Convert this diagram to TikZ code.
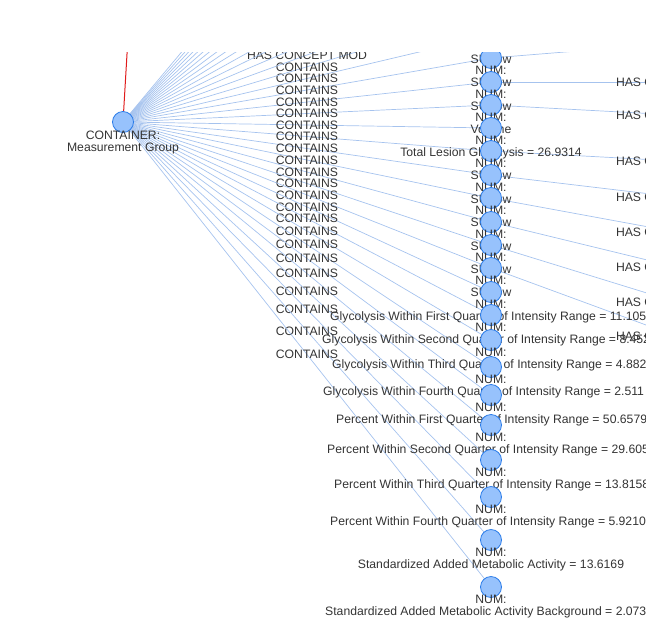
\documentclass[tikz,border=0pt]{standalone}
\usepackage{fontspec}
\setmainfont{Liberation Sans}
\definecolor{nodefill}{HTML}{97C2FC}
\definecolor{nodeline}{HTML}{2B7CE9}
\definecolor{edgeblue}{HTML}{A6C3EE}
\definecolor{txt}{HTML}{343434}
\definecolor{redge}{HTML}{E01B1B}
\begin{document}
\begin{tikzpicture}[x=1pt,y=-1pt,
  vnode/.style={circle,fill=nodefill,draw=nodeline,line width=0.8pt,minimum size=21pt,inner sep=0pt},
  lbl/.style={font=\fontsize{12.2}{14}\selectfont,text=txt,inner sep=0pt,text height=8.7pt,text depth=0pt},
  cedge/.style={draw=edgeblue,line width=0.7pt},
  pedge/.style={draw=redge,line width=1pt}]
\useasboundingbox (0,0) rectangle (646,622);
\clip (0,52) rectangle (646,622);
\coordinate (c) at (123,122);
\coordinate (up) at (129,20);
\foreach \i/\y in {0/35,1/58,2/82,3/105,4/128,5/151,6/175,7/198,8/222,9/245,10/268,11/292,12/315,13/340,14/367,15/395,16/425,17/460,18/497,19/540,20/587}
  \coordinate (v\i) at (491,\y);
\foreach \i in {1,...,15}
  \coordinate (u\i) at (491,{35-23.5*\i});
% edges from container
\foreach \i in {0,...,20}
  \draw[cedge] (c) -- node[lbl]{CONTAINS} (v\i);
\draw[cedge] (c) -- node[lbl]{CONTAINS} (u1);
\draw[cedge] (c) -- node[lbl]{HAS CONCEPT MOD} (u2);
\foreach \i in {3,...,15}
  \draw[cedge] (c) -- (u\i);
% edges to concept modifiers on the right
\foreach \i/\ty in {1/28,2/82,3/125,5/171,6/219,7/266,8/312,9/359,10/404}{
  \coordinate (r\i) at (861,\ty);
  \draw[cedge] (v\i) -- node[lbl]{HAS CONCEPT MOD} (r\i);
}
\draw[pedge] (c) -- (up);
% container node
\node[vnode] (C) at (c) {};
\node[lbl] (C1) at (123,135) {CONTAINER:};
\node[lbl] (C2) at (123,147.5) {Measurement Group};
% column nodes with labels
\foreach \i/\y/\txt/\ax/\anc in {
  0/35/SUVbw/491/center,
  1/58/SUVbw/491/center,
  2/82/SUVbw/491/center,
  3/105/Volume/491/center,
  4/128/Total Lesion Glycolysis = 26.9314/491/center,
  5/151/SUVbw/491/center,
  6/175/SUVbw/491/center,
  7/198/SUVbw/491/center,
  8/222/SUVbw/491/center,
  9/245/SUVbw/491/center,
  10/268/SUVbw/491/center,
  11/292/Glycolysis Within First Quarter of Intensity Range = 11.105/330/west,
  12/315/Glycolysis Within Second Quarter of Intensity Range = 8.452/322/west,
  13/340/Glycolysis Within Third Quarter of Intensity Range = 4.882/332/west,
  14/367/Glycolysis Within Fourth Quarter of Intensity Range = 2.511/323/west,
  15/395/Percent Within First Quarter of Intensity Range = 50.6579/336/west,
  16/425/Percent Within Second Quarter of Intensity Range = 29.605/327/west,
  17/460/Percent Within Third Quarter of Intensity Range = 13.8158/334/west,
  18/497/Percent Within Fourth Quarter of Intensity Range = 5.9210/330/west,
  19/540/Standardized Added Metabolic Activity = 13.6169/491/center,
  20/587/Standardized Added Metabolic Activity Background = 2.073/325/west}{
  \node[vnode] (V\i) at (v\i) {};
  \node[lbl] (N\i) at (491,{\y+12.5}) {NUM:};
  \node[lbl,anchor=\anc] (T\i) at (\ax,{\y+24.5}) {\txt};
}
\end{tikzpicture}
\end{document}
